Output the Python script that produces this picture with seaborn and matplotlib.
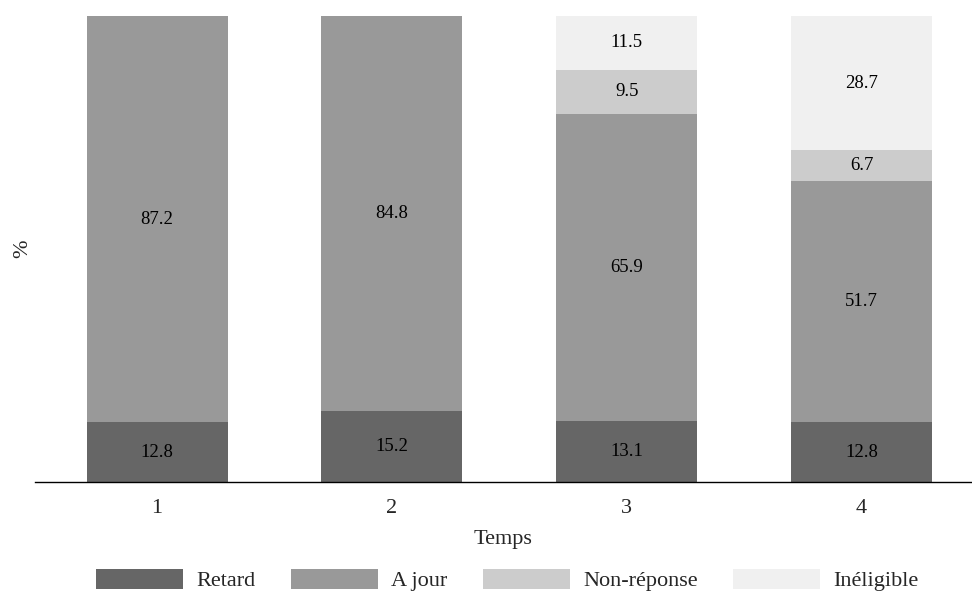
import numpy as np
import pandas as pd
import seaborn as sns
import matplotlib.pyplot as plt
from matplotlib.patches import Patch

temps = ['1', '2', '3', '4']
categories = ['Retard', 'A jour', 'Non-réponse', 'Inéligible']
retard = [12.8, 15.2, 13.1, 12.8]
a_jour = [87.2, 84.8, 65.9, 51.7]
non_reponse = [0.0, 0.0, 9.5, 6.7]
ineligible = [0.0, 0.0, 11.5, 28.7]
colors = ['#666666', '#999999', '#cccccc', '#f0f0f0']

sns.set_theme(style='white')
plt.rcParams['font.family'] = ['Liberation Serif', 'DejaVu Serif']

series = [retard, a_jour, non_reponse, ineligible]
cum = np.cumsum(np.array(series), axis=0)

fig = plt.figure(figsize=(9.72, 5.92), dpi=100)
ax = fig.add_axes([0.036, 0.186, 0.964, 0.787])

# overplot cumulative bars, tallest first
for i in range(len(series) - 1, -1, -1):
    df = pd.DataFrame({'Temps': temps, 'val': cum[i]})
    sns.barplot(data=df, x='Temps', y='val', color=colors[i], saturation=1,
                width=0.6, ax=ax, linewidth=0)

for i, s in enumerate(series):
    for j, v in enumerate(s):
        if v > 0:
            ax.text(j, cum[i][j] - v / 2, f'{v:.1f}', ha='center', va='center',
                    fontsize=13.5, color='black')

ax.set_ylim(0, 100)
ax.set_xlim(-0.52, 3.47)
ax.set_yticks([])
ax.set_ylabel('%', fontsize=16, labelpad=2)
ax.set_xlabel('Temps', fontsize=16, labelpad=9)
ax.tick_params(axis='x', length=0, pad=12, labelsize=16)
for side in ['top', 'right', 'left']:
    ax.spines[side].set_visible(False)
ax.spines['bottom'].set_color('black')
ax.spines['bottom'].set_linewidth(1)

handles = [Patch(facecolor=c, edgecolor='none', label=l) for c, l in zip(colors, categories)]
fig.legend(handles=handles, loc='center', bbox_to_anchor=(0.522, 0.02), ncol=4,
           frameon=False, fontsize=16, handlelength=3.9, handleheight=1.0,
           handletextpad=0.6, columnspacing=1.6)

fig.savefig('out.png', dpi=100)
